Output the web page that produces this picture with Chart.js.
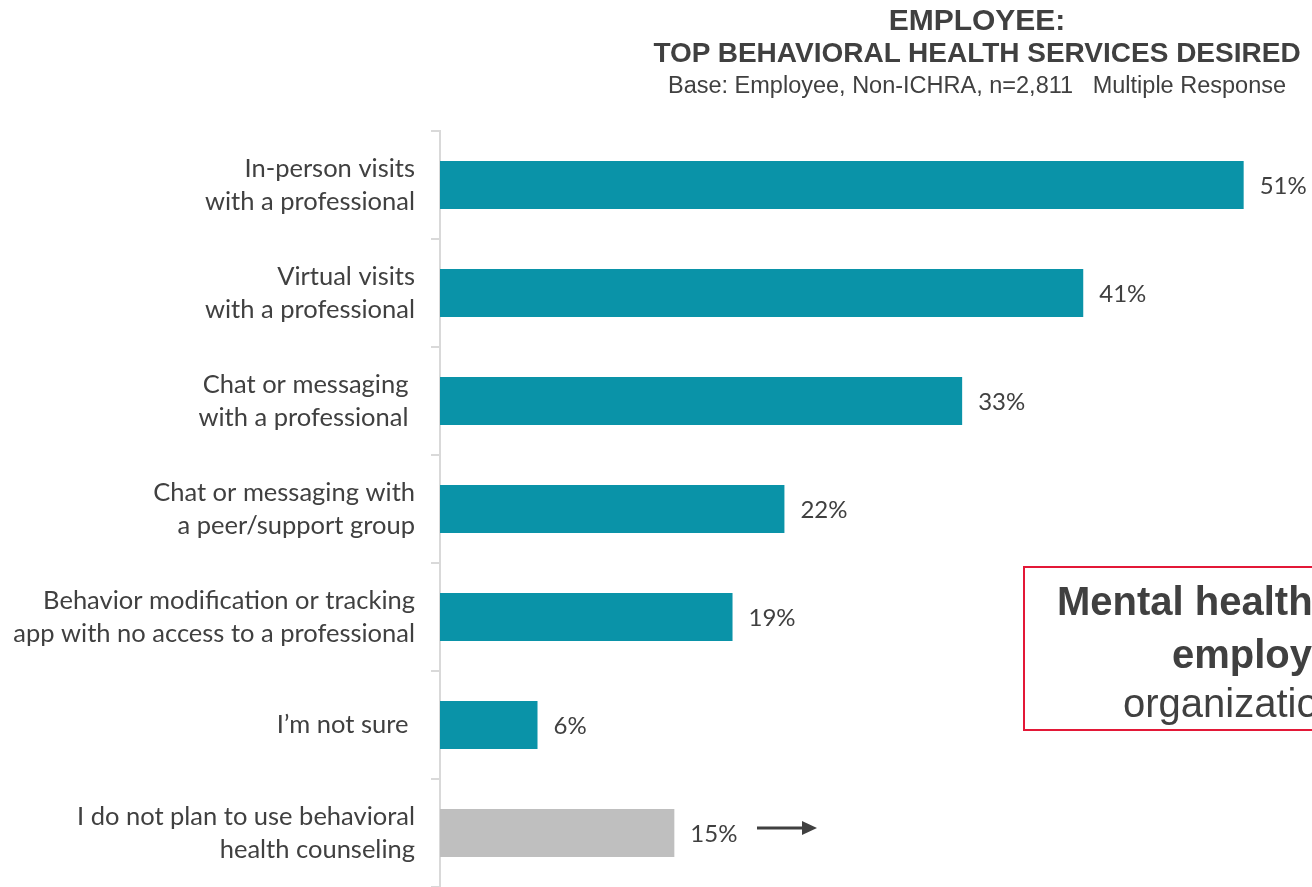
<!DOCTYPE html>
<html>
<head>
<meta charset="utf-8">
<script src="https://cdn.jsdelivr.net/npm/chart.js@4.4.1/dist/chart.umd.min.js"></script>
<style>
  html, body { margin: 0; padding: 0; background: #fff; overflow: hidden; }
  #wrap { position: relative; width: 1312px; height: 887px; }
  #c { position: absolute; left: 0; top: 0; }
  .t { position: absolute; left: 577px; width: 800px; text-align: center; color: #404040; font-family: "Liberation Sans", Arial, sans-serif; white-space: nowrap; line-height: 1; }
</style>
</head>
<body>
<div id="wrap">
  <canvas id="c" width="1312" height="887"></canvas>
  <div class="t" style="top:5px;font-size:30px;font-weight:bold;">EMPLOYEE:</div>
  <div class="t" style="top:39px;font-size:28px;font-weight:bold;">TOP BEHAVIORAL HEALTH SERVICES DESIRED</div>
  <div class="t" style="top:74px;font-size:23.5px;">Base: Employee, Non-ICHRA, n=2,811&nbsp;&nbsp; Multiple Response</div>
</div>
<script>
const categories = [
  ["In-person visits", "with a professional"],
  ["Virtual visits", "with a professional"],
  ["Chat or messaging ", "with a professional "],
  ["Chat or messaging with", "a peer/support group"],
  ["Behavior modification or tracking", "app with no access to a professional"],
  "I\u2019m not sure ",
  ["I do not plan to use behavioral", "health counseling"]
];
const values = [51.1, 40.9, 33.2, 21.9, 18.6, 6.2, 14.9];
const valueLabels = ["51%", "41%", "33%", "22%", "19%", "6%", "15%"];
const barColors = ["#0A93A8", "#0A93A8", "#0A93A8", "#0A93A8", "#0A93A8", "#0A93A8", "#BFBFBF"];
const calloutLines = ["Mental health", "employers", "organizations"];

const textColor = "#404040";
const labelFont = "Lato, 'Open Sans', sans-serif";

const valueLabelPlugin = {
  id: "valueLabels",
  afterDatasetsDraw(chart) {
    const ctx = chart.ctx;
    const meta = chart.getDatasetMeta(0);
    ctx.save();
    ctx.fillStyle = textColor;
    ctx.font = "24px " + labelFont;
    ctx.textAlign = "left";
    ctx.textBaseline = "middle";
    meta.data.forEach((bar, i) => {
      ctx.fillText(valueLabels[i], bar.x + 16, bar.y + 1);
    });
    // arrow after last label
    const last = meta.data[meta.data.length - 1];
    const ay = last.y - 5;
    const ax0 = 757, ax1 = 817;
    ctx.strokeStyle = textColor;
    ctx.lineWidth = 3;
    ctx.beginPath();
    ctx.moveTo(ax0, ay);
    ctx.lineTo(ax1 - 12, ay);
    ctx.stroke();
    ctx.beginPath();
    ctx.moveTo(ax1, ay);
    ctx.lineTo(ax1 - 15, ay - 7);
    ctx.lineTo(ax1 - 15, ay + 7);
    ctx.closePath();
    ctx.fill();
    // callout box
    ctx.strokeStyle = "#E31837";
    ctx.lineWidth = 2;
    ctx.strokeRect(1024, 567, 400, 163);
    ctx.fillStyle = textColor;
    ctx.textBaseline = "alphabetic";
    ctx.font = "bold 40px 'Liberation Sans', Arial, sans-serif";
    ctx.fillText(calloutLines[0], 1057, 615);
    ctx.fillText(calloutLines[1], 1172, 668);
    ctx.font = "40px 'Liberation Sans', Arial, sans-serif";
    ctx.fillText(calloutLines[2], 1123, 717);
    ctx.restore();
  }
};

new Chart(document.getElementById("c"), {
  type: "bar",
  data: {
    labels: categories,
    datasets: [{
      data: values,
      backgroundColor: barColors,
      borderWidth: 0,
      barPercentage: 0.444,
      categoryPercentage: 1.0
    }]
  },
  options: {
    indexAxis: "y",
    responsive: false,
    animation: false,
    events: [],
    layout: { padding: { top: 131, right: 7, bottom: -3, left: 0 } },
    plugins: { legend: { display: false }, tooltip: { enabled: false }, title: { display: false } },
    scales: {
      x: { display: false, min: 0, max: 55 },
      y: {
        afterFit(s) { s.width = 440; s.paddingTop = 0; s.paddingBottom = 0; },
        border: { display: true, color: "#D9D9D9", width: 2 },
        grid: { display: true, drawOnChartArea: false, drawTicks: true, tickLength: 9, color: "#D9D9D9", lineWidth: 2, offset: true },
        ticks: { color: textColor, padding: 16, font: { family: labelFont, size: 25.5, lineHeight: 1.3 }, crossAlign: "near" }
      }
    }
  },
  plugins: [valueLabelPlugin]
});
</script>
</body>
</html>
